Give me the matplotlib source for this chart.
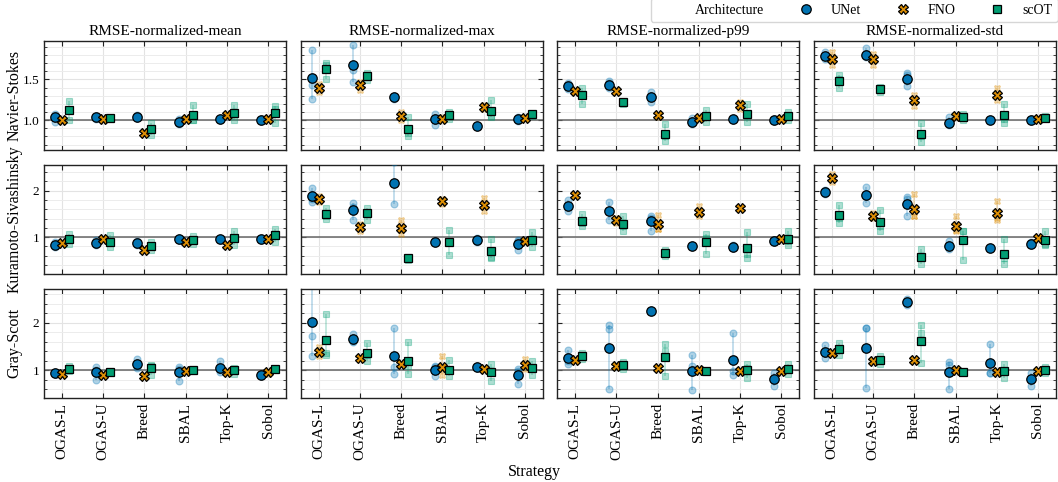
import matplotlib
matplotlib.use('Agg')
import matplotlib.pyplot as plt
from matplotlib.lines import Line2D
from matplotlib.ticker import AutoMinorLocator, MultipleLocator

plt.rcParams['font.family'] = ['Liberation Serif', 'DejaVu Serif']

STRATEGIES = ['OGAS-L', 'OGAS-U', 'Breed', 'SBAL', 'Top-K', 'Sobol']
METRICS = ['RMSE-normalized-mean', 'RMSE-normalized-max',
           'RMSE-normalized-p99', 'RMSE-normalized-std']
PDES = ['Navier-Stokes', 'Kuramoto-Sivashinsky', 'Gray-Scott']
ARCHS = ['UNet', 'FNO', 'scOT']

# ---- Navier-Stokes: rows = metrics (mean, max, p99, std), cols = strategies
NS_UNET = [[1.04, 1.04, 1.045, 0.98, 1.01, 1.00],
           [1.52, 1.67, 1.28, 1.01, 0.93, 1.01],
           [1.42, 1.43, 1.29, 0.98, 1.01, 1.00],
           [1.79, 1.80, 1.51, 0.97, 1.00, 1.00]]
NS_FNO = [[1.00, 1.01, 0.84, 1.02, 1.06, 1.02],
          [1.39, 1.43, 1.05, 1.02, 1.16, 1.03],
          [1.36, 1.36, 1.06, 1.03, 1.18, 1.02],
          [1.75, 1.75, 1.25, 1.05, 1.31, 1.02]]
NS_SCOT = [[1.12, 1.03, 0.89, 1.06, 1.09, 1.09],
           [1.63, 1.54, 0.89, 1.06, 1.11, 1.07],
           [1.31, 1.22, 0.83, 1.05, 1.08, 1.05],
           [1.48, 1.38, 0.83, 1.04, 1.06, 1.03]]
NS_UNET_RUNS = [[[0.98, 1.04, 1.07], [1.02, 1.05], [1.03, 1.06], [0.95, 0.98, 1.01], [1.00, 1.02], [0.99, 1.01]],
                [[1.26, 1.43, 1.86], [1.47, 1.62, 1.92], [1.26, 1.30], [0.94, 1.01, 1.08], [0.93], [0.99, 1.04]],
                [[1.38, 1.42, 1.46], [1.39, 1.45, 1.48], [1.22, 1.30, 1.35], [0.95, 0.98, 1.03], [1.01], [0.99, 1.01]],
                [[1.75, 1.79, 1.83], [1.77, 1.81, 1.88], [1.42, 1.55, 1.58], [0.94, 0.97, 1.04], [1.00], [0.99, 1.01]]]
NS_FNO_RUNS = [[[0.99, 1.00, 1.01], [1.00, 1.02], [0.83, 0.85], [1.01, 1.03], [1.05, 1.07], [1.01, 1.03]],
               [[1.34, 1.39, 1.44], [1.37, 1.43, 1.47], [1.00, 1.05, 1.10], [1.00, 1.02, 1.04], [1.14, 1.18], [1.02, 1.04]],
               [[1.35, 1.37], [1.35, 1.37], [1.04, 1.08], [1.02, 1.04], [1.14, 1.18, 1.22], [1.01, 1.03]],
               [[1.68, 1.75, 1.83], [1.68, 1.75, 1.81], [1.17, 1.25, 1.31], [1.04, 1.06], [1.25, 1.31, 1.40], [1.01, 1.03]]]
NS_SCOT_RUNS = [[[1.00, 1.13, 1.23], [1.02, 1.04], [0.82, 0.89, 0.96], [1.00, 1.00, 1.18], [1.00, 1.08, 1.19], [0.96, 1.14, 1.17]],
                [[1.51, 1.67, 1.70], [1.49, 1.54, 1.58], [0.80, 0.84, 1.04], [1.02, 1.06, 1.10], [1.04, 1.05, 1.25], [1.05, 1.07, 1.09]],
                [[1.20, 1.32, 1.40], [1.20, 1.22, 1.24], [0.75, 0.80, 0.95], [0.98, 1.05, 1.12], [0.98, 1.06, 1.20], [1.00, 1.05, 1.10]],
                [[1.39, 1.50, 1.55], [1.35, 1.38, 1.41], [0.73, 0.80, 0.97], [1.00, 1.04, 1.08], [0.97, 1.01, 1.20], [1.01, 1.03, 1.05]]]

# ---- Kuramoto-Sivashinsky
KS_UNET = [[0.84, 0.88, 0.87, 0.96, 0.96, 0.96],
           [1.88, 1.58, 2.16, 0.90, 0.94, 0.86],
           [1.68, 1.56, 1.34, 0.80, 0.79, 0.92],
           [1.97, 1.90, 1.71, 0.81, 0.77, 0.86]]
KS_FNO = [[0.88, 0.96, 0.73, 0.89, 0.84, 0.96],
          [1.82, 1.21, 1.19, 1.77, 1.70, 0.91],
          [1.91, 1.36, 1.28, 1.54, 1.62, 0.97],
          [2.27, 1.46, 1.61, 1.25, 1.52, 0.98]]
KS_SCOT = [[0.95, 0.90, 0.81, 0.94, 0.99, 1.04],
           [1.49, 1.51, 0.54, 0.89, 0.69, 0.94],
           [1.35, 1.28, 0.66, 0.90, 0.76, 0.96],
           [1.47, 1.32, 0.58, 0.93, 0.64, 0.94]]
KS_UNET_RUNS = [[[0.78, 0.84, 0.90], [0.82, 0.88, 0.93], [0.83, 0.87, 0.91], [0.94, 0.98], [0.95, 0.97], [0.95, 0.97]],
                [[1.75, 1.83, 2.06], [1.36, 1.64, 1.74], [1.71, 2.61], [0.90], [0.90, 0.94, 0.98], [0.73, 0.92, 0.93]],
                [[1.57, 1.68, 1.79], [1.38, 1.56, 1.75], [1.14, 1.42, 1.46], [0.80], [0.76, 0.79, 0.82], [0.90, 0.94]],
                [[1.92, 1.97, 2.02], [1.73, 1.88, 2.09], [1.45, 1.82, 1.86], [0.75, 0.80, 0.91], [0.77], [0.82, 0.86, 0.90]]]
KS_FNO_RUNS = [[[0.87, 0.89], [0.95, 0.97], [0.72, 0.74], [0.88, 0.90], [0.83, 0.85], [0.95, 0.97]],
               [[1.75, 1.82, 1.89], [1.13, 1.21, 1.29], [1.07, 1.15, 1.36], [1.72, 1.77, 1.82], [1.57, 1.70, 1.84], [0.90, 0.92]],
               [[1.91], [1.31, 1.36, 1.41], [1.18, 1.18, 1.48], [1.45, 1.50, 1.68], [1.62], [0.96, 0.98]],
               [[2.18, 2.27, 2.36], [1.41, 1.46, 1.51], [1.45, 1.45, 1.94], [1.14, 1.16, 1.45], [1.38, 1.41, 1.77], [0.97, 0.99]]]
KS_SCOT_RUNS = [[[0.86, 0.93, 1.07], [0.79, 0.87, 1.04], [0.73, 0.81, 0.89], [0.86, 0.94, 1.02], [0.84, 0.99, 1.14], [0.89, 1.05, 1.18]],
                [[1.39, 1.46, 1.62], [1.36, 1.55, 1.62], [0.50, 0.54, 0.58], [0.61, 0.90, 1.16], [0.54, 0.58, 0.95], [0.79, 0.92, 1.11]],
                [[1.25, 1.30, 1.50], [1.14, 1.24, 1.46], [0.59, 0.66, 0.73], [0.63, 0.99, 1.07], [0.54, 0.63, 1.11], [0.82, 0.92, 1.14]],
                [[1.31, 1.41, 1.69], [1.14, 1.23, 1.59], [0.43, 0.57, 0.74], [0.51, 1.14, 1.14], [0.41, 0.55, 0.96], [0.82, 0.86, 1.14]]]

# ---- Gray-Scott
GS_UNET = [[0.93, 0.96, 1.12, 0.95, 1.05, 0.89],
           [2.02, 1.65, 1.29, 1.01, 1.07, 0.90],
           [1.25, 1.46, 2.24, 0.99, 1.21, 0.81],
           [1.38, 1.46, 2.44, 0.96, 1.14, 0.81]]
GS_FNO = [[0.91, 0.90, 0.87, 0.99, 0.95, 0.95],
          [1.39, 1.26, 1.12, 1.07, 1.02, 1.11],
          [1.22, 1.09, 1.05, 1.01, 0.97, 0.98],
          [1.36, 1.20, 1.21, 1.01, 0.96, 0.98]]
GS_SCOT = [[1.03, 0.96, 1.04, 1.01, 1.00, 1.02],
           [1.64, 1.36, 1.19, 1.00, 0.95, 1.05],
           [1.29, 1.10, 1.28, 0.97, 1.00, 1.02],
           [1.44, 1.21, 1.62, 0.96, 0.98, 1.00]]
GS_UNET_RUNS = [[[0.92, 0.94], [0.79, 1.01, 1.07], [1.05, 1.09, 1.23], [0.77, 1.02, 1.07], [0.96, 1.00, 1.19], [0.88, 0.90]],
                [[1.30, 1.71, 3.05], [1.60, 1.62, 1.77], [0.92, 1.07, 1.88], [0.88, 1.06, 1.09], [1.05, 1.09], [0.71, 0.97, 1.02]],
                [[1.12, 1.20, 1.43], [0.60, 1.86, 1.95], [2.24], [0.57, 1.08, 1.32], [0.90, 0.97, 1.78], [0.67, 0.83, 0.93]],
                [[1.26, 1.37, 1.52], [0.62, 1.88, 1.88], [2.38, 2.44, 2.50], [0.61, 1.11, 1.16], [0.93, 0.93, 1.55], [0.67, 0.83, 0.93]]]
GS_FNO_RUNS = [[[0.90, 0.92], [0.89, 0.91], [0.86, 0.88], [0.98, 1.00], [0.94, 0.96], [0.91, 0.95, 0.99]],
               [[1.30, 1.39, 1.48], [1.24, 1.28], [1.10, 1.14], [0.90, 1.02, 1.30], [1.00, 1.04], [1.02, 1.11, 1.23]],
               [[1.21, 1.23], [1.08, 1.10], [1.04, 1.06], [1.00, 1.02], [0.96, 0.98], [0.97, 0.99]],
               [[1.35, 1.37], [1.19, 1.21], [1.20, 1.22], [1.00, 1.02], [0.95, 0.97], [0.97, 0.99]]]
GS_SCOT_RUNS = [[[0.98, 1.04, 1.08], [0.93, 0.97, 0.99], [0.89, 1.08, 1.10], [0.99, 1.03], [0.92, 1.00, 1.05], [1.00, 1.04]],
                [[1.32, 1.37, 2.18], [1.19, 1.32, 1.57], [0.91, 1.08, 1.60], [0.88, 1.00, 1.21], [0.77, 0.97, 1.12], [0.90, 1.05, 1.19]],
                [[1.23, 1.29, 1.35], [1.02, 1.10, 1.18], [0.88, 1.40, 1.56], [0.96, 0.98], [0.83, 1.05, 1.12], [0.91, 1.02, 1.12]],
                [[1.32, 1.44, 1.57], [1.13, 1.21, 1.29], [1.14, 1.79, 1.95], [0.95, 0.97], [0.84, 0.98, 1.12], [0.93, 1.00, 1.07]]]

MEANS = [[NS_UNET, NS_FNO, NS_SCOT], [KS_UNET, KS_FNO, KS_SCOT], [GS_UNET, GS_FNO, GS_SCOT]]
RUNS = [[NS_UNET_RUNS, NS_FNO_RUNS, NS_SCOT_RUNS],
        [KS_UNET_RUNS, KS_FNO_RUNS, KS_SCOT_RUNS],
        [GS_UNET_RUNS, GS_FNO_RUNS, GS_SCOT_RUNS]]

COLORS = ['#0173b2', '#de8f05', '#029e73']
MARKERS = ['o', 'X', 's']
MSIZES = [6.8, 6.8, 6.3]
LIGHT_SIZES = [5.0, 5.0, 4.8]
OFFSETS = [-0.17, 0.0, 0.17]
YLIMS = [(0.63, 1.97), (0.2, 2.56), (0.41, 2.72)]
YMAJOR = [0.5, 1.0, 1.0]

fig, axes = plt.subplots(3, 4, figsize=(10.58, 4.82), dpi=100, sharex=True, sharey='row')
fig.subplots_adjust(left=44 / 1058, right=1056 / 1058, top=1 - 41 / 482,
                    bottom=1 - 398 / 482, wspace=0.06, hspace=0.132)

xs = list(range(len(STRATEGIES)))
for r in range(3):
    for c in range(4):
        ax = axes[r, c]
        ax.set_axisbelow(True)
        ax.grid(True, which='major', color='#e3e3e3', lw=0.8)
        ax.grid(True, which='minor', axis='y', color='#ececec', lw=0.7)
        ax.axhline(1.0, color='#666666', lw=1.1, zorder=1)
        for a in range(3):
            means = MEANS[r][a][c]
            runs = RUNS[r][a][c]
            for i in xs:
                x = i + OFFSETS[a]
                vals = runs[i]
                ax.plot([x, x], [min(vals), max(vals)], color=COLORS[a],
                        alpha=0.3, lw=1.1, zorder=2, solid_capstyle='butt')
                ax.plot([x] * len(vals), vals, linestyle='none', marker=MARKERS[a],
                        ms=LIGHT_SIZES[a], color=COLORS[a], alpha=0.32,
                        mec=COLORS[a], mew=0.8, zorder=3)
            ax.plot([i + OFFSETS[a] for i in xs], means, linestyle='none',
                    marker=MARKERS[a], ms=MSIZES[a], mfc=COLORS[a], mec='black',
                    mew=0.9, zorder=5)
        ax.set_ylim(*YLIMS[r])
        ax.set_xlim(-0.437, 5.437)
        ax.yaxis.set_major_locator(MultipleLocator(YMAJOR[r]))
        ax.yaxis.set_minor_locator(AutoMinorLocator(5))
        ax.set_xticks(xs)
        ax.set_xticklabels(STRATEGIES, rotation=90)
        ax.tick_params(which='both', direction='in', top=True, right=True,
                       color='#222222')
        ax.tick_params(axis='y', labelsize=9.5)
        ax.tick_params(axis='x', labelsize=11)
        ax.tick_params(which='major', length=3.5, width=0.8)
        ax.tick_params(which='minor', length=2, width=0.6)
        ax.tick_params(axis='x', which='minor', bottom=False, top=False)
        for s in ax.spines.values():
            s.set_linewidth(1.0)
            s.set_color('#222222')
        if r == 0:
            ax.set_title(METRICS[c], fontsize=11, pad=4)
        if c == 0:
            ax.set_ylabel(PDES[r], fontsize=11.5)
            ax.yaxis.set_label_coords(-0.09, 0.5)

fig.text(0.505, 0.004, 'Strategy', ha='center', va='bottom', fontsize=11.5)

handles = [Line2D([], [], linestyle='none', marker='none')]
for a in range(3):
    handles.append(Line2D([], [], linestyle='none', marker=MARKERS[a], ms=MSIZES[a],
                          mfc=COLORS[a], mec='black', mew=0.9))
labels = ['Architecture'] + ARCHS
fig.legend(handles, labels, loc='upper right', bbox_to_anchor=(1.0, 1.004), ncol=4,
           fontsize=10, frameon=True, edgecolor='#cccccc', fancybox=True,
           borderaxespad=0.0)

fig.savefig('out.png', dpi=100)
